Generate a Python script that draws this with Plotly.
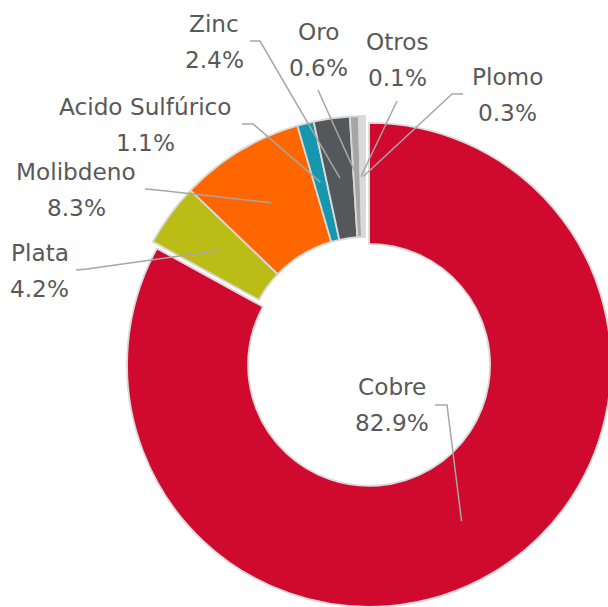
import math
import plotly.graph_objects as go

# ---- data ----
labels = ["Cobre", "Plata", "Molibdeno", "Acido Sulfúrico", "Zinc", "Oro", "Otros", "Plomo"]
values = [82.9, 4.2, 8.3, 1.1, 2.4, 0.6, 0.1, 0.3]
pct_text = ["82.9%", "4.2%", "8.3%", "1.1%", "2.4%", "0.6%", "0.1%", "0.3%"]

# ---- style ----
colors = ["#CF0A2E", "#BCBC16", "#FF6600", "#1597AD", "#54585A", "#A6A6A6", "#C4C4C4", "#D9D9D9"]
pulls = [0.033, 0, 0, 0, 0, 0, 0, 0]

W, H = 640, 640
CX, CY = 365.0, 358.0      # pie centre (px)
R = 242.0                  # outer radius (px)
HOLE = 0.5
maxpull = max(pulls)
S = 2 * R * (1 + maxpull)  # domain box side in px

def px(x):
    return x / W

def py(y):
    return 1 - y / H

# label layout: (name centre x, name centre y), pct is 36px below; leader path points
label_pos = {
    "Cobre": (392, 386.5),
    "Plata": (39.5, 252),
    "Molibdeno": (76, 171.5),
    "Acido Sulfúrico": (145, 106),
    "Zinc": (214, 23.5),
    "Oro": (318.5, 31),
    "Otros": (397, 41.5),
    "Plomo": (507.5, 76),
}
leader_start = {
    "Cobre": [(435, 405), (447, 405)],
    "Plata": [(76, 270), (87, 269)],
    "Molibdeno": [(145, 189), (157, 190)],
    "Acido Sulfúrico": [(242, 124), (253, 124)],
    "Zinc": [(250, 41), (260, 41)],
    "Oro": [(318, 90)],
    "Otros": [(397, 101)],
    "Plomo": [(463, 94), (452, 94)],
}

fig = go.Figure()
fig.add_trace(go.Pie(
    labels=labels,
    values=values,
    sort=False,
    direction="clockwise",
    rotation=0,
    hole=HOLE,
    pull=pulls,
    textinfo="none",
    hoverinfo="skip",
    marker=dict(colors=colors, line=dict(color="#D9D9D9", width=1.8)),
    domain=dict(x=[px(CX - S / 2), px(CX + S / 2)],
                y=[py(CY + S / 2), py(CY - S / 2)]),
))

total = sum(values)
cum = 0.0
shapes = []
annotations = []
rt = R * (1 + HOLE) / 2
for lab, v, pt in zip(labels, values, pct_text):
    i = labels.index(lab)
    theta = 2 * math.pi * (cum + v / 2) / total
    cum += v
    off = pulls[i] * R
    tx = CX + (rt + off) * math.sin(theta)
    ty = CY - (rt + off) * math.cos(theta)
    pts = leader_start[lab] + [(tx, ty)]
    path = "M " + " L ".join(f"{px(x):.5f},{py(y):.5f}" for x, y in pts)
    shapes.append(dict(type="path", path=path, xref="paper", yref="paper",
                       line=dict(color="#A6A6A6", width=1.5)))
    lx, ly = label_pos[lab]
    for txt, yy in ((lab, ly), (pt, ly + 36)):
        annotations.append(dict(text=txt, x=px(lx), y=py(yy), xref="paper", yref="paper",
                                xanchor="center", yanchor="middle", showarrow=False,
                                font=dict(family="DejaVu Sans", size=23.2, color="#595959")))

fig.update_layout(
    width=W, height=H, autosize=False,
    margin=dict(l=0, r=0, t=0, b=0),
    paper_bgcolor="white", plot_bgcolor="white",
    showlegend=False,
    shapes=shapes,
    annotations=annotations,
)

fig.write_html("out.html", config={"displayModeBar": False},
               post_script="document.body.style.margin='0';document.body.style.overflow='hidden';")
